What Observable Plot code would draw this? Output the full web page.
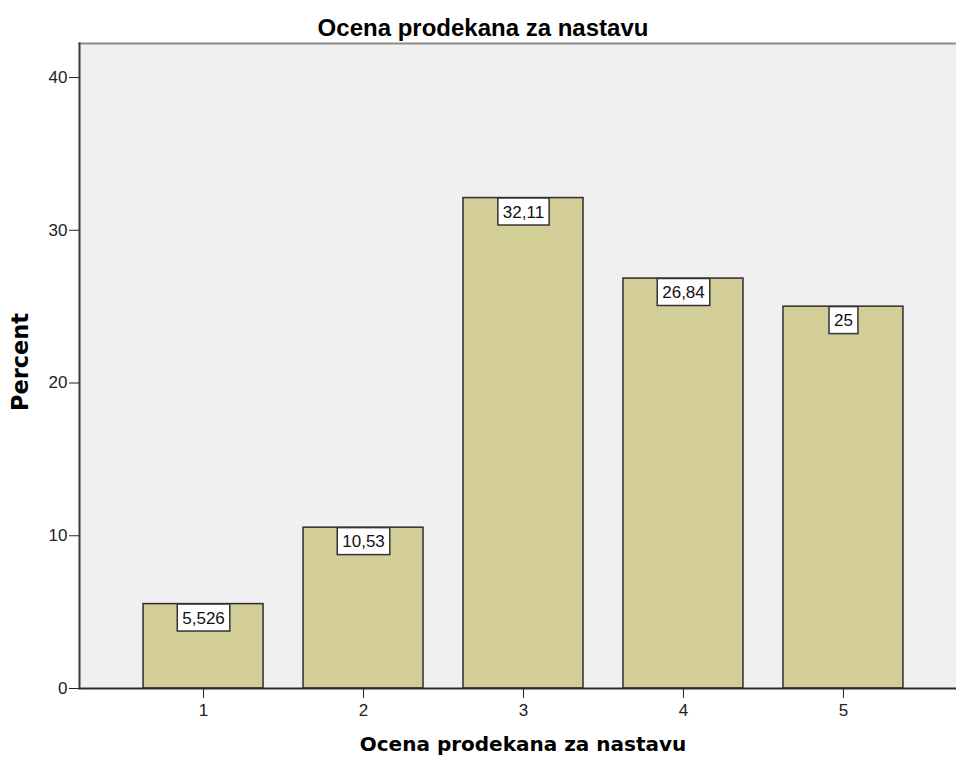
<!DOCTYPE html>
<html>
<head>
<meta charset="utf-8">
<script src="https://cdn.jsdelivr.net/npm/d3@7"></script>
<script src="https://cdn.jsdelivr.net/npm/@observablehq/plot@0.6"></script>
<style>
  html, body { margin: 0; padding: 0; background: #ffffff; }
  #chart { width: 956px; height: 760px; }
</style>
</head>
<body>
<div id="chart"></div>
<script>
// ---- data ----
const categories = ["1", "2", "3", "4", "5"];
const percents = [5.526, 10.53, 32.11, 26.84, 25];
const yTicks = [0, 10, 20, 30, 40];
const yMax = 42.23;
const titleText = "Ocena prodekana za nastavu";
const xLabelText = "Ocena prodekana za nastavu";
const yLabelText = "Percent";

const data = categories.map((c, i) => ({cat: c, pct: percents[i]}));
const locale = d3.formatLocale({decimal: ",", thousands: ".", grouping: [3], currency: ["", ""]});
const fmt = locale.format(".4~r");
const labelStrings = new Set(data.map(d => fmt(d.pct)));

const chart = Plot.plot({
  width: 956,
  height: 760,
  marginLeft: 79,
  marginRight: 0,
  marginTop: 43,
  marginBottom: 72,
  style: {fontFamily: "'Liberation Sans', Arial, sans-serif", fontSize: "17px", background: "#ffffff", color: "#222"},
  x: {domain: categories, paddingInner: 0.25, paddingOuter: 0.366, align: 0.547, round: false, axis: null},
  y: {domain: [0, yMax], axis: null},
  marks: [
    Plot.frame({fill: "#f0f0f0"}),
    Plot.frame({anchor: "top", stroke: "#8a8a8a", strokeWidth: 2}),
    Plot.barY(data, {x: "cat", y: "pct", fill: "#d3ce97", stroke: "#2e2e2e", strokeWidth: 1.5}),
    Plot.frame({anchor: "left", stroke: "#3a3a3a", strokeWidth: 2}),
    Plot.ruleY([0], {stroke: "#2e2e2e", strokeWidth: 2}),
    Plot.axisY({ticks: yTicks, tickSize: 10, tickPadding: 2, tickFormat: d => String(d), label: null, stroke: "#222", fill: "#222"}),
    Plot.axisX({tickSize: 10, tickPadding: 5, label: null, stroke: "#222", fill: "#222"}),
    Plot.text(data, {x: "cat", y: "pct", text: d => fmt(d.pct), dy: 14, fill: "#111", className: "vlabels"}),
    Plot.text([titleText], {text: d => d, frameAnchor: "top", textAnchor: "middle", dx: -35, dy: -25, fontSize: 24, fontWeight: "bold", fill: "#000"}),
    Plot.text([xLabelText], {text: d => d, frameAnchor: "bottom", textAnchor: "middle", dx: 5, dy: 62, fontSize: 20, fontWeight: "bold", fill: "#000", fontFamily: "'DejaVu Sans', sans-serif"}),
    Plot.text([yLabelText], {text: d => d, frameAnchor: "left", textAnchor: "middle", rotate: -90, dx: -59, dy: -4, fontSize: 22.5, fontWeight: "bold", fill: "#000", fontFamily: "'DejaVu Sans', sans-serif"})
  ]
});
document.getElementById("chart").appendChild(chart);

// white boxes behind value labels
const NS = "http://www.w3.org/2000/svg";
Array.from(chart.querySelectorAll("text")).forEach(t => {
  if (!labelStrings.has(t.textContent.trim())) return;
  // skip axis tick labels
  const p = t.closest('g[aria-label$="tick label"]');
  if (p) return;
  const b = t.getBBox();
  const cy = b.y + b.height / 2;
  const rect = document.createElementNS(NS, "rect");
  rect.setAttribute("x", b.x - 5);
  rect.setAttribute("y", cy - 14);
  rect.setAttribute("width", b.width + 10);
  rect.setAttribute("height", 27);
  rect.setAttribute("fill", "#ffffff");
  rect.setAttribute("stroke", "#333333");
  rect.setAttribute("stroke-width", 1.5);
  const tr = t.getAttribute("transform");
  if (tr) rect.setAttribute("transform", tr);
  t.parentNode.insertBefore(rect, t);
});
</script>
</body>
</html>
